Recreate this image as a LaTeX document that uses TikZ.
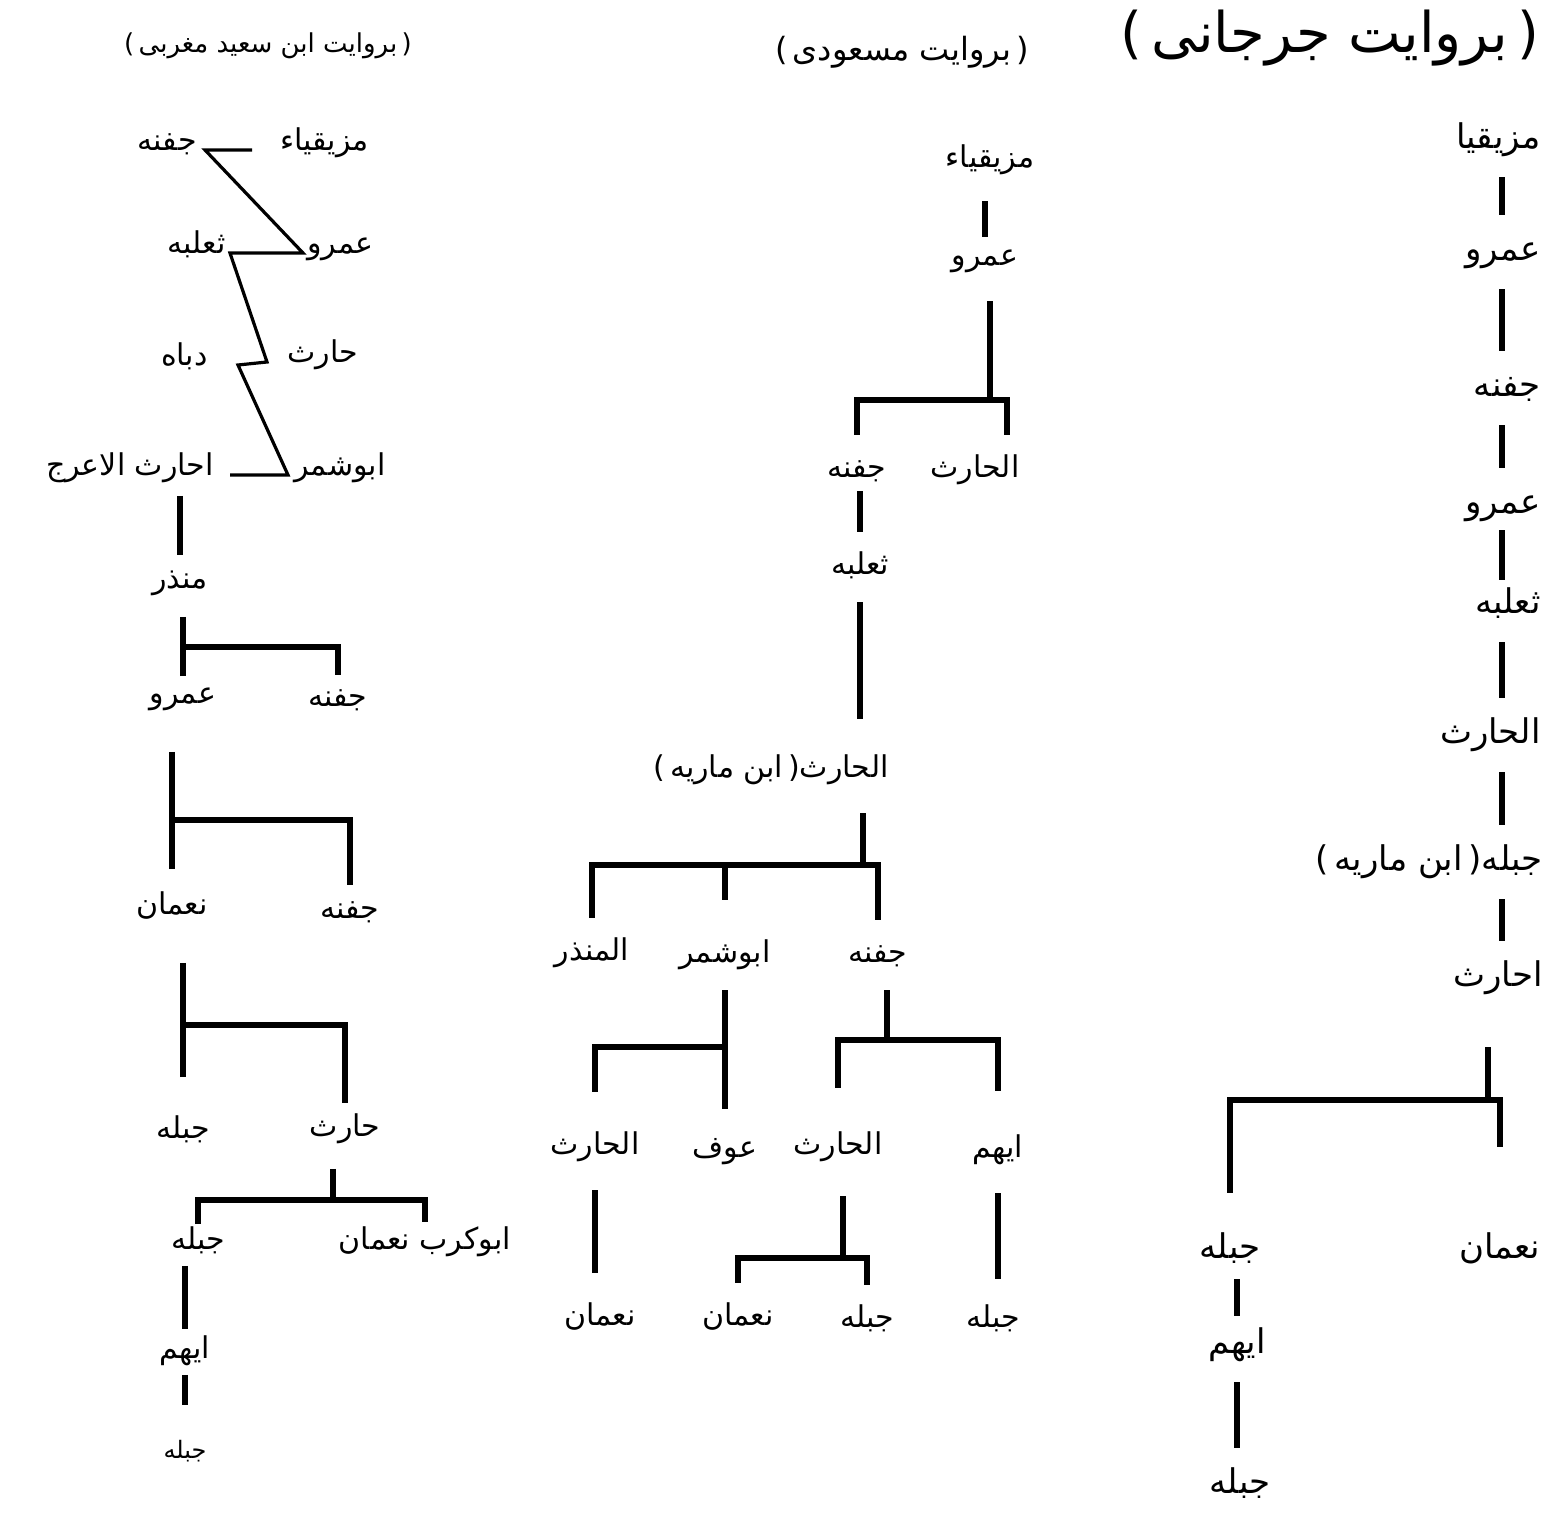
\documentclass[tikz,border=0pt]{standalone}
\usepackage{fontspec}
\newfontfamily\arfont[Script=Arabic]{DejaVu Sans}
\newfontfamily\parfont{DejaVu Sans}
\TeXXeTstate=1
\usetikzlibrary{positioning}
\newcommand{\rl}[1]{\beginR #1\endR}
\newcommand{\ob}{{\parfont(}}
\newcommand{\cb}{{\parfont)}}
\tikzset{
  lname/.style={font=\arfont\fontsize{15}{17}\selectfont, inner sep=0pt, text height=10.5pt, text depth=4pt},
  mname/.style={font=\arfont\fontsize{15}{17}\selectfont, inner sep=0pt, text height=11pt, text depth=4pt},
  rname/.style={font=\arfont\fontsize{17}{19}\selectfont, inner sep=0pt, text height=12.5pt, text depth=4.5pt},
  rcol/.style={rname, anchor=east},
  kin/.style={line width=3.2pt},
  zigzag/.style={line width=1.6pt, line join=miter},
  gapped/.style={shorten <=10pt, shorten >=10pt},
  zrow/.style={yshift=3pt}
}
\begin{document}
\begin{tikzpicture}[x=0.5pt,y=-0.5pt]
\fill[white] (0,0) rectangle (1544,1515);
\useasboundingbox (0,0) rectangle (1544,1515);
%% left column
\node[font=\arfont\fontsize{13}{15}\selectfont] (ltitle) at (268,46) {\ob\,\rl{بروایت ابن سعید مغربی}\,\cb};
\coordinate (z1) at (252,150);
\coordinate (z2) at (205,150);
\coordinate (z3) at (303,253);
\coordinate (z4) at (230,253);
\coordinate (z5) at (267,362);
\coordinate (z6) at (238,365);
\coordinate (z7) at (288,475);
\coordinate (z8) at (230,475);
\node[lname, zrow, right=14pt of z1] (la1) {\rl{مزیقیاء}};
\node[lname, zrow, left=4pt of z2] (lb1) {\rl{جفنه}};
\node[lname, zrow, right=2pt of z3] (la2) {\rl{عمرو}};
\node[lname, zrow, left=2pt of z4] (lb2) {\rl{ثعلبه}};
\node[lname, zrow, right=10pt of z5] (la3) {\rl{حارث}};
\node[lname, zrow, left=15pt of z6] (lb3) {\rl{دباه}};
\node[lname, zrow, right=3pt of z7] (la4) {\rl{ابوشمر}};
\node[lname, zrow, left=8pt of z8] (lb4) {\rl{احارث الاعرج}};
\draw[zigzag] (z1) -- (z2) -- (z3) -- (z4) -- (z5) -- (z6) -- (z7) -- (z8);
\node[lname] (l5) at (180,582) {\rl{منذر}};
\draw[kin, shorten <=6pt, shorten >=6pt] (l5.north |- lb4.south) -- (l5.north);
\coordinate (jA) at (183,647);
\node[lname] (l6a) at (183,697) {\rl{عمرو}};
\node[lname] (l6b) at (338,700) {\rl{جفنه}};
\draw[kin, shorten <=10pt] (l5.south -| jA) -- (jA);
\draw[kin, shorten <=3pt, shorten >=5pt] (l6a.north) |- (jA) -| (l6b.north);
\coordinate (jB) at (172,820);
\node[lname] (l7a) at (172,908) {\rl{نعمان}};
\node[lname] (l7b) at (350,912) {\rl{جفنه}};
\draw[kin, shorten <=20pt] (l6a.south -| jB) -- (jB);
\draw[kin, shorten <=12pt, shorten >=6pt] (l7a.north) |- (jB) -| (l7b.north);
\coordinate (jC) at (183,1025);
\node[lname] (l8a) at (183,1132) {\rl{جبله}};
\node[lname] (l8b) at (345,1130) {\rl{حارث}};
\draw[kin, shorten <=20pt] (l7a.south -| jC) -- (jC);
\draw[kin, shorten <=20pt, shorten >=6pt] (l8a.north) |- (jC) -| (l8b.north);
\coordinate (jD) at (333,1200);
\node[lname] (l9a) at (198,1243) {\rl{جبله}};
\node[lname] (l9b) at (425,1243) {\rl{ابوکرب نعمان}};
\draw[kin, shorten <=12pt] (l8b.south -| jD) -- (jD);
\draw[kin, shorten <=2pt, shorten >=3pt] (l9a.north) |- (jD) -| (l9b.north);
\node[lname] (l10) at (185,1352) {\rl{ایهم}};
\node[lname, font=\arfont\fontsize{12}{14}\selectfont] (l11) at (185,1452) {\rl{جبله}};
\draw[kin, shorten <=4pt, shorten >=4pt] (l10.north |- l9a.south) -- (l10.north);
\draw[kin, shorten <=4pt, shorten >=16pt] (l10.south) -- (l10.south |- l11.north);
%% middle column
\node[font=\arfont\fontsize{16}{18}\selectfont] (mtitle) at (902,52) {\ob\,\rl{بروایت مسعودی}\,\cb};
\node[mname] (m1) at (990,160) {\rl{مزیقیاء}};
\node[mname] (m2) at (985,258) {\rl{عمرو}};
\draw[kin, shorten <=13pt, shorten >=3pt] (m2.north |- m1.south) -- (m2.north);
\coordinate (jE) at (990,400);
\node[mname] (m3a) at (857,470) {\rl{جفنه}};
\node[mname] (m3b) at (975,470) {\rl{الحارث}};
\draw[kin, shorten <=14pt] (m2.south -| jE) -- (jE);
\draw[kin, gapped] (m3a.north) |- (jE) -| ([xshift=16pt]m3b.north);
\node[mname] (m4) at (860,567) {\rl{ثعلبه}};
\draw[kin, shorten <=3pt, shorten >=10pt] (m4.north |- m3a.south) -- (m4.north);
\node[mname] (m5) at (771,770) {\ob\,\rl{ابن ماریه}\,\cb\rl{الحارث}};
\draw[kin, shorten <=10pt, shorten >=18pt] (m4.south) -- (m4.south |- m5.north);
\coordinate (jF) at (863,865);
\node[mname] (m6a) at (592,953) {\rl{المنذر}};
\node[mname] (m6b) at (725,955) {\rl{ابوشمر}};
\node[mname] (m6c) at (878,955) {\rl{جفنه}};
\draw[kin, shorten <=14pt] (m5.south -| jF) -- (jF);
\draw[kin, shorten <=10pt, shorten >=10pt] (m6a.north) |- (jF) -| (m6c.north);
\draw[kin, shorten >=20pt] (m6b.north |- jF) -- (m6b.north);
\coordinate (jG) at (725,1047);
\node[mname] (m7a) at (595,1147) {\rl{الحارث}};
\node[mname] (m7b) at (725,1150) {\rl{عوف}};
\draw[kin, shorten <=10pt, shorten >=13pt] (m6b.south) -- (m7b.north);
\draw[kin, shorten <=20pt] (m7a.north) |- (jG);
\coordinate (jH) at (887,1040);
\node[mname] (m7c) at (838,1147) {\rl{الحارث}};
\node[mname] (m7d) at (998,1150) {\rl{ایهم}};
\draw[kin, shorten <=10pt] (m6c.south -| jH) -- (jH);
\draw[kin, shorten <=22pt, shorten >=22pt] (m7c.north) |- (jH) -| (m7d.north);
\node[mname] (m8a) at (600,1318) {\rl{نعمان}};
\draw[kin, shorten <=14pt, shorten >=15pt] (m7a.south) -- (m7a.south |- m8a.north);
\coordinate (jI) at (843,1258);
\node[mname] (m8b) at (738,1318) {\rl{نعمان}};
\node[mname] (m8c) at (867,1320) {\rl{جبله}};
\draw[kin, shorten <=17pt] (m7c.south -| jI) -- (jI);
\draw[kin, shorten <=10pt, shorten >=10pt] (m8b.north) |- (jI) -| (m8c.north);
\node[mname] (m8d) at (993,1320) {\rl{جبله}};
\draw[kin, shorten <=14pt, shorten >=13pt] (m7d.south) -- (m7d.south |- m8d.north);
%% right column
\node[font=\arfont\fontsize{28}{30}\selectfont] (rtitle) at (1330,38) {\ob\,\rl{بروایت جرجانی}\,\cb};
\coordinate (rc) at (1502,0);
\node[rcol] (r1) at (1541,140) {\rl{مزیقیا}};
\node[rcol] (r2) at (1541,252) {\rl{عمرو}};
\node[rcol] (r3) at (1541,388) {\rl{جفنه}};
\node[rcol] (r4) at (1541,505) {\rl{عمرو}};
\node[rcol] (r5) at (1541,605) {\rl{ثعلبه}};
\node[rcol] (r6) at (1541,735) {\rl{الحارث}};
\node[rcol] (r7) at (1543,862) {\ob\,\rl{ابن ماریه}\,\cb\rl{جبله}};
\node[rcol] (r8) at (1543,978) {\rl{احارث}};
\draw[kin, gapped] (r1.south -| rc) -- (r2.north -| rc);
\draw[kin, gapped] (r2.south -| rc) -- (r3.north -| rc);
\draw[kin, gapped] (r3.south -| rc) -- (r4.north -| rc);
\draw[kin, shorten <=4pt, shorten >=4pt] (r4.south -| rc) -- (r5.north -| rc);
\draw[kin, gapped] (r5.south -| rc) -- (r6.north -| rc);
\draw[kin, gapped] (r6.south -| rc) -- (r7.north -| rc);
\draw[kin, gapped] (r7.south -| rc) -- (r8.north -| rc);
\coordinate (jJ) at (1488,1100);
\node[rname] (r9a) at (1230,1250) {\rl{جبله}};
\node[rname] (r9b) at (1500,1250) {\rl{نعمان}};
\draw[kin, shorten <=26pt] (r8.south -| jJ) -- (jJ);
\draw[kin, shorten <=20pt, shorten >=43pt] (r9a.north) |- (jJ) -| (r9b.north);
\node[rname] (r10) at (1237,1345) {\rl{ایهم}};
\node[rname] (r11) at (1240,1485) {\rl{جبله}};
\draw[kin, shorten <=6pt, shorten >=6pt] (r10.north |- r9a.south) -- (r10.north);
\draw[kin, gapped] (r10.south) -- (r10.south |- r11.north);
\end{tikzpicture}
\end{document}
